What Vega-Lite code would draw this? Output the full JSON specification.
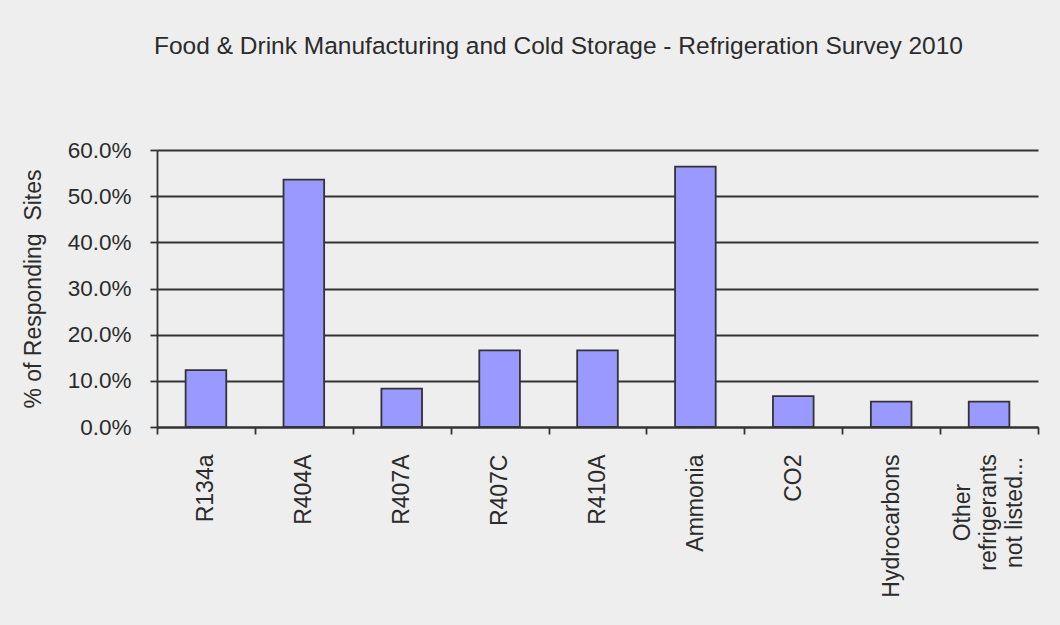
{
  "$schema": "https://vega.github.io/schema/vega-lite/v6.json",
  "autosize": {"type": "none"},
  "width": 881,
  "height": 277,
  "padding": {"left": 157, "top": 150, "right": 22, "bottom": 198},
  "background": "#eeeeee",
  "title": {
    "text": "Food & Drink Manufacturing and Cold Storage - Refrigeration Survey 2010",
    "font": "Liberation Sans",
    "fontSize": 24.5,
    "fontWeight": "normal",
    "color": "#2b2b2b",
    "anchor": "middle",
    "dx": -39,
    "offset": 80
  },
  "data": {
    "values": [
      {"refrigerant": "R134a", "share": 0.123},
      {"refrigerant": "R404A", "share": 0.536},
      {"refrigerant": "R407A", "share": 0.083},
      {"refrigerant": "R407C", "share": 0.166},
      {"refrigerant": "R410A", "share": 0.166},
      {"refrigerant": "Ammonia", "share": 0.564},
      {"refrigerant": "CO2", "share": 0.067},
      {"refrigerant": "Hydrocarbons", "share": 0.055},
      {"refrigerant": "Other refrigerants not listed...", "share": 0.055}
    ]
  },
  "mark": {"type": "bar", "fill": "#9999ff", "stroke": "#333333", "strokeWidth": 1.8, "width": {"band": 0.415}},
  "encoding": {
    "x": {
      "field": "refrigerant",
      "type": "nominal",
      "sort": null,
      "scale": {"paddingInner": 0, "paddingOuter": 0},
      "axis": {
        "title": null,
        "tickBand": "extent",
        "domainColor": "#333333",
        "domainWidth": 1.8,
        "tickColor": "#333333",
        "tickWidth": 1.8,
        "tickSize": 7,
        "labelAngle": -90,
        "labelAlign": {"condition": {"test": "datum.label == 'Other refrigerants not listed...'", "value": "center"}, "value": "right"},
        "labelBaseline": "middle",
        "labelPadding": {"condition": {"test": "datum.label == 'Other refrigerants not listed...'", "value": 78}, "value": 20},
        "labelOffset": {"condition": {"test": "datum.label == 'Other refrigerants not listed...'", "value": -27}, "value": 0},
        "labelExpr": "datum.label == 'Other refrigerants not listed...' ? ['Other', 'refrigerants', 'not listed...'] : datum.label",
        "labelLineHeight": 26,
        "labelFont": "Liberation Sans",
        "labelFontSize": 23,
        "labelColor": "#2b2b2b",
        "labelLimit": 300
      }
    },
    "y": {
      "field": "share",
      "type": "quantitative",
      "scale": {"domain": [0, 0.6], "nice": false},
      "axis": {
        "title": "% of Responding \u00a0Sites",
        "titleFont": "Liberation Sans",
        "titleFontSize": 23,
        "titleFontWeight": "normal",
        "titleColor": "#2b2b2b",
        "titlePadding": 22,
        "format": ".1%",
        "values": [0, 0.1, 0.2, 0.3, 0.4, 0.5, 0.6],
        "labelFont": "Liberation Sans",
        "labelFontSize": 22.5,
        "labelColor": "#2b2b2b",
        "labelPadding": 19,
        "tickSize": 7,
        "tickColor": "#333333",
        "tickWidth": 1.8,
        "domainColor": "#333333",
        "domainWidth": 1.8,
        "grid": true,
        "gridColor": "#333333",
        "gridWidth": 1.8
      }
    }
  },
  "config": {"view": {"stroke": null}}
}
